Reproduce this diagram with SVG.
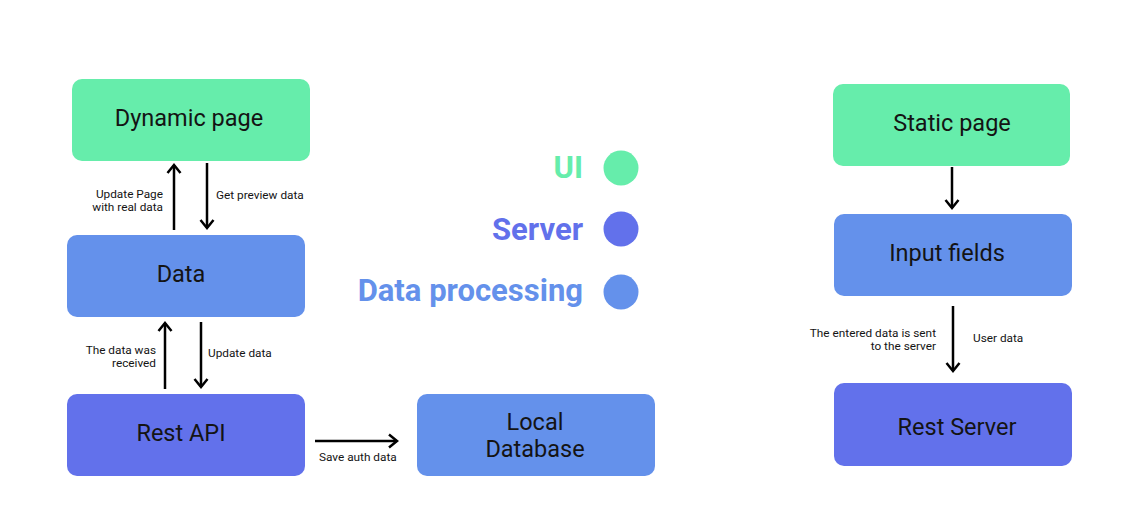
<svg xmlns="http://www.w3.org/2000/svg" width="1133" height="521" viewBox="0 0 1133 521">
<style>
.ui{fill:#66EDAB}
.srv{fill:#6271EB}
.dp{fill:#6491EB}
.nt{font-family:Roboto,"Liberation Sans",sans-serif;font-size:23.5px;fill:#141414;text-anchor:middle}
.lb{font-family:Roboto,"Liberation Sans",sans-serif;font-size:11.8px;fill:#141414}
.lg{font-family:Roboto,"Liberation Sans",sans-serif;font-size:31px;font-weight:bold;text-anchor:end}
.cn{stroke:#000;stroke-width:2.5;fill:none}
</style>
<defs>
<marker id="ah" markerUnits="userSpaceOnUse" markerWidth="20" markerHeight="20" viewBox="-10 -10 20 20" refX="0" refY="0" orient="auto">
<path d="M-8,-6.5 L0,0 L-8,6.5" fill="none" stroke="#000" stroke-width="2.5" stroke-linejoin="miter"/>
</marker>
</defs>
<rect width="1133" height="521" fill="#fff"/>
<g id="dynamic-page"><rect class="ui" x="72" y="79" width="238" height="82" rx="10"/><text class="nt" x="189" y="126">Dynamic page</text></g>
<g id="data"><rect class="dp" x="67" y="235" width="238" height="82" rx="10"/><text class="nt" x="181" y="282">Data</text></g>
<g id="rest-api"><rect class="srv" x="67" y="394" width="238" height="82" rx="10"/><text class="nt" x="181" y="441">Rest API</text></g>
<g id="local-database"><rect class="dp" x="417" y="394" width="238" height="82" rx="10"/><text class="nt" x="535" y="430">Local</text><text class="nt" x="535" y="457">Database</text></g>
<g id="static-page"><rect class="ui" x="833" y="84" width="237" height="82" rx="10"/><text class="nt" x="952" y="131">Static page</text></g>
<g id="input-fields"><rect class="dp" x="834" y="214" width="238" height="82" rx="10"/><text class="nt" x="947" y="261">Input fields</text></g>
<g id="rest-server"><rect class="srv" x="834" y="383" width="238" height="83" rx="10"/><text class="nt" x="957" y="435">Rest Server</text></g>
<g id="legend">
<text class="lg" x="583" y="178" fill="#66EDAB">UI</text><circle cx="621" cy="168" r="17.5" class="ui"/>
<text class="lg" x="583" y="240" fill="#6271EB">Server</text><circle cx="621" cy="229" r="17.5" class="srv"/>
<text class="lg" x="583" y="301" fill="#6491EB">Data processing</text><circle cx="621" cy="292" r="17.5" class="dp"/>
</g>
<g id="connectors">
<path class="cn" d="M174,230 L174,165" marker-end="url(#ah)"/>
<path class="cn" d="M207,163 L207,228" marker-end="url(#ah)"/>
<path class="cn" d="M165,389 L165,323" marker-end="url(#ah)"/>
<path class="cn" d="M201,322 L201,387" marker-end="url(#ah)"/>
<path class="cn" d="M315,441 L397,441" marker-end="url(#ah)"/>
<path class="cn" d="M952,167 L952,208" marker-end="url(#ah)"/>
<path class="cn" d="M953,306 L953,371" marker-end="url(#ah)"/>
<text class="lb" x="163" y="198" text-anchor="end">Update Page</text>
<text class="lb" x="163" y="211" text-anchor="end">with real data</text>
<text class="lb" x="216" y="199">Get preview data</text>
<text class="lb" x="156" y="354" text-anchor="end">The data was</text>
<text class="lb" x="156" y="367" text-anchor="end">received</text>
<text class="lb" x="208" y="357">Update data</text>
<text class="lb" x="319" y="461">Save auth data</text>
<text class="lb" x="936" y="337" text-anchor="end">The entered data is sent</text>
<text class="lb" x="936" y="350" text-anchor="end">to the server</text>
<text class="lb" x="973" y="342">User data</text>
</g>
</svg>
